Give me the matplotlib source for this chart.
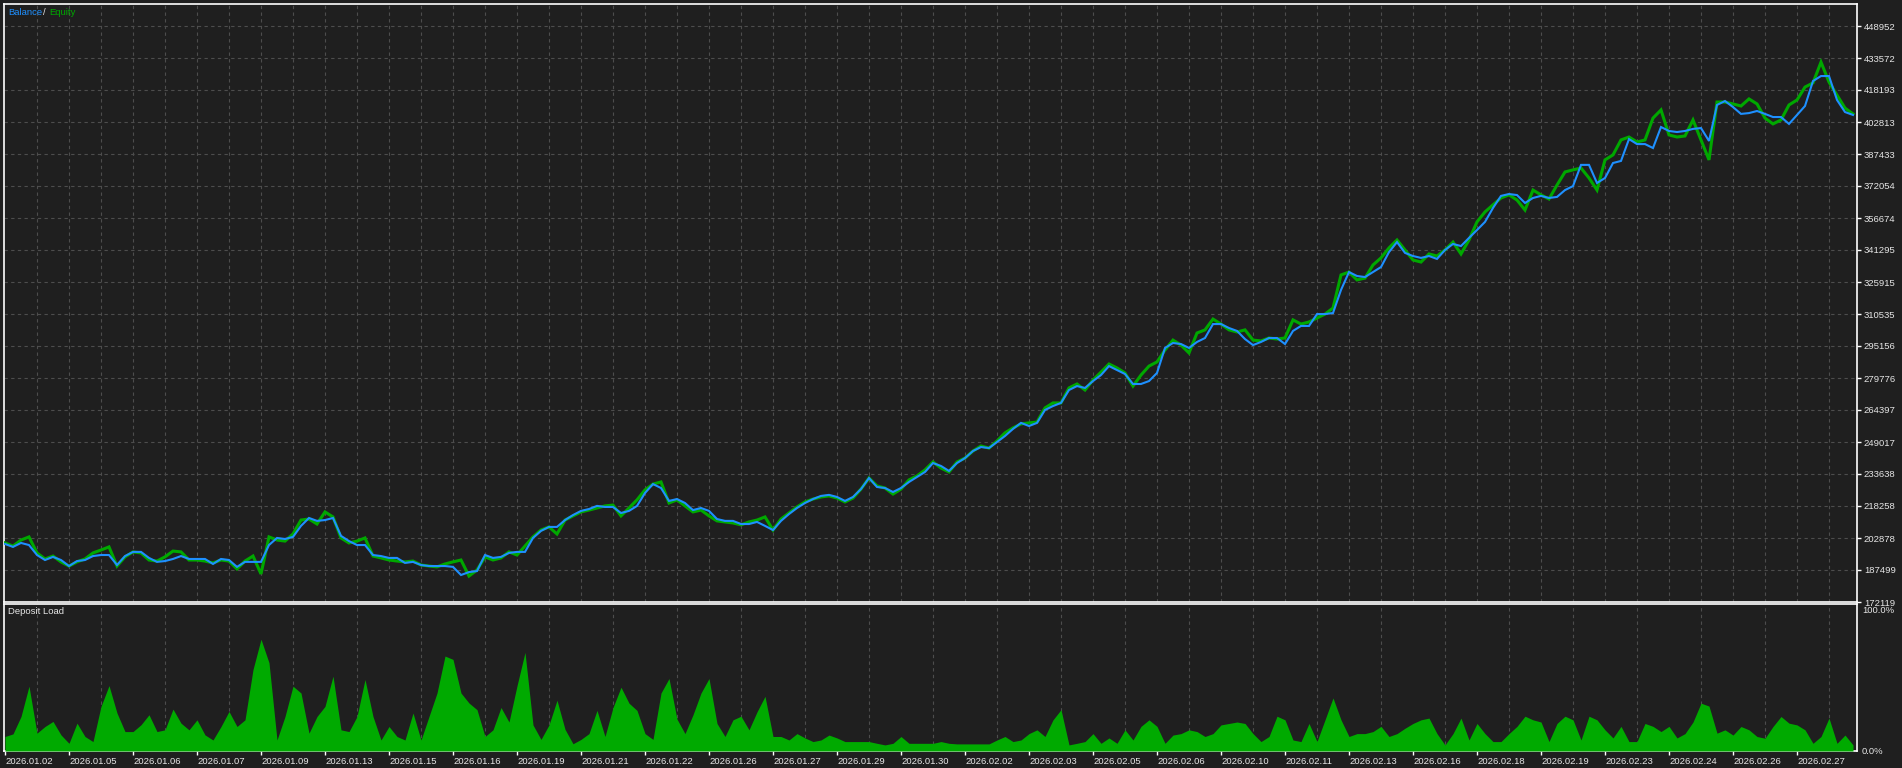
import matplotlib
matplotlib.use('Agg')
import matplotlib.pyplot as plt
import numpy as np

# ---------------- data (balance / equity in thousands, load in %) ----------------
dates = ['2026.01.02', '2026.01.05', '2026.01.06', '2026.01.07', '2026.01.09', '2026.01.13',
         '2026.01.15', '2026.01.16', '2026.01.19', '2026.01.21', '2026.01.22', '2026.01.26',
         '2026.01.27', '2026.01.29', '2026.01.30', '2026.02.02', '2026.02.03', '2026.02.05',
         '2026.02.06', '2026.02.10', '2026.02.11', '2026.02.13', '2026.02.16', '2026.02.18',
         '2026.02.19', '2026.02.23', '2026.02.24', '2026.02.26', '2026.02.27']

y_ticks = [172119, 187499, 202878, 218258, 233638, 249017, 264397, 279776, 295156, 310535,
           325915, 341295, 356674, 372054, 387433, 402813, 418193, 433572, 448952]

balance_k = [
    200.0, 198.6, 200.5, 199.5, 194.7, 192.3, 193.8, 192.3, 189.4, 191.8,
    192.3, 194.2, 194.7, 194.7, 189.9, 194.2, 196.2, 196.2, 193.3, 191.4,
    191.8, 192.8, 194.2, 192.8, 192.8, 192.8, 190.4, 192.8, 192.3, 189.0,
    191.4, 191.4, 191.4, 199.5, 202.9, 202.4, 203.4, 208.7, 212.5, 211.1,
    211.5, 212.5, 203.9, 201.4, 199.5, 199.5, 194.7, 194.2, 193.3, 193.3,
    190.9, 191.4, 189.9, 189.4, 189.4, 189.4, 189.0, 185.1, 186.5, 187.0,
    194.7, 193.3, 193.8, 195.7, 196.2, 196.2, 202.9, 206.3, 208.2, 208.2,
    211.5, 213.9, 215.9, 216.8, 218.3, 217.8, 217.8, 214.9, 215.9, 218.3,
    224.5, 228.8, 226.9, 220.7, 221.6, 219.7, 216.3, 217.3, 215.9, 212.0,
    211.1, 211.1, 209.6, 209.6, 210.6, 208.7, 206.7, 211.1, 214.4, 217.3,
    219.7, 221.6, 223.1, 223.6, 222.6, 220.7, 222.6, 226.4, 231.7, 227.4,
    226.9, 225.0, 226.9, 229.8, 232.2, 234.6, 238.9, 237.5, 235.1, 238.9,
    241.3, 244.7, 246.6, 246.1, 249.0, 251.9, 255.3, 258.2, 256.7, 258.2,
    264.4, 266.3, 267.8, 274.0, 275.9, 275.0, 278.3, 281.2, 285.5, 283.6,
    281.7, 276.9, 276.9, 278.3, 282.2, 294.2, 296.6, 296.1, 294.2, 297.1,
    299.0, 305.7, 305.7, 303.8, 302.4, 298.5, 295.6, 297.1, 299.0, 299.0,
    296.1, 302.4, 304.8, 304.8, 310.5, 310.5, 311.0, 322.1, 330.7, 328.8,
    328.3, 330.7, 333.1, 340.3, 345.1, 339.9, 338.4, 337.5, 338.4, 337.0,
    341.3, 344.2, 343.2, 347.1, 350.9, 354.8, 361.5, 367.3, 368.2, 367.7,
    363.9, 366.3, 367.3, 366.3, 366.8, 370.1, 372.0, 382.2, 382.2, 373.5,
    375.9, 383.1, 384.1, 394.6, 392.2, 392.2, 390.3, 400.4, 398.5, 398.0,
    398.5, 399.5, 399.9, 393.7, 411.0, 412.9, 410.0, 406.7, 407.1, 408.1,
    406.7, 405.2, 405.2, 401.9, 406.2, 410.5, 422.5, 424.9, 424.9, 413.4,
    407.6, 406.2]

equity_k = [
    200.5, 199.0, 201.9, 203.4, 195.7, 192.8, 194.2, 191.4, 189.4, 191.4,
    192.8, 195.7, 197.1, 198.6, 189.4, 193.8, 196.2, 195.7, 192.3, 191.8,
    193.8, 196.6, 196.2, 192.3, 192.3, 191.8, 190.9, 192.3, 191.8, 188.0,
    191.8, 194.2, 185.6, 203.4, 201.9, 201.4, 204.8, 211.5, 212.0, 209.6,
    215.4, 213.0, 202.9, 200.5, 201.4, 202.9, 194.2, 193.3, 192.3, 191.8,
    191.4, 191.8, 189.9, 189.4, 189.0, 190.4, 191.4, 192.3, 184.6, 187.5,
    193.8, 192.3, 193.3, 196.2, 194.7, 199.0, 203.4, 206.7, 208.2, 204.8,
    211.5, 213.5, 215.4, 216.3, 217.3, 218.3, 218.7, 213.5, 217.3, 221.2,
    226.0, 228.8, 229.8, 219.7, 221.2, 218.3, 215.4, 216.3, 213.5, 211.1,
    210.6, 210.1, 209.2, 210.6, 211.5, 213.0, 206.7, 212.0, 214.9, 217.8,
    220.2, 221.6, 222.6, 223.1, 222.1, 220.2, 222.1, 226.4, 231.7, 227.9,
    226.9, 224.0, 226.4, 230.8, 232.7, 235.6, 239.4, 236.5, 234.6, 239.4,
    241.3, 244.7, 247.1, 246.1, 249.5, 253.4, 255.8, 257.7, 258.2, 258.6,
    265.4, 267.8, 267.8, 275.0, 276.9, 274.0, 278.8, 282.6, 286.5, 284.6,
    282.2, 275.9, 281.2, 285.5, 287.5, 293.2, 298.0, 295.6, 291.8, 301.4,
    302.9, 308.1, 305.7, 302.9, 301.9, 302.9, 298.0, 297.6, 299.0, 298.5,
    299.0, 307.7, 305.7, 306.7, 308.6, 310.5, 313.4, 329.3, 330.7, 326.9,
    327.8, 334.1, 337.5, 342.3, 346.1, 341.3, 336.5, 335.5, 339.4, 338.4,
    341.3, 345.1, 339.4, 346.1, 354.8, 359.6, 363.0, 366.3, 367.8, 365.3,
    360.5, 370.1, 367.8, 365.8, 372.5, 378.8, 379.8, 380.7, 375.9, 370.1,
    384.6, 387.0, 394.2, 395.6, 393.2, 394.2, 404.7, 408.6, 396.6, 395.6,
    396.1, 403.8, 394.2, 384.6, 412.4, 412.4, 411.5, 410.5, 413.9, 411.5,
    404.7, 401.9, 403.8, 411.0, 413.4, 419.6, 421.6, 431.6, 422.0, 415.8,
    409.5, 406.7]

deposit_load = [
    10.0, 11.8, 23.8, 44.7, 12.3, 16.9, 20.4, 11.1, 5.3, 19.2,
    10.0, 6.5, 30.8, 45.1, 26.2, 13.4, 13.4, 18.1, 25.0, 13.4,
    14.6, 28.9, 19.2, 14.6, 21.5, 11.1, 7.6, 16.9, 27.3, 16.9,
    21.5, 56.2, 77.1, 60.9, 7.6, 23.8, 44.7, 40.0, 12.3, 23.8,
    30.8, 51.6, 14.6, 13.4, 23.8, 49.3, 23.8, 7.6, 16.9, 10.0,
    7.6, 26.2, 7.6, 23.8, 40.0, 65.5, 63.2, 40.0, 33.1, 28.5,
    10.0, 14.6, 30.0, 20.0, 45.0, 68.0, 18.0, 8.0, 18.0, 35.0,
    15.0, 5.0, 8.0, 12.0, 28.0, 10.0, 30.0, 44.0, 33.0, 28.0,
    12.0, 8.0, 40.0, 50.0, 22.0, 12.0, 25.0, 40.0, 50.0, 19.0,
    10.0, 21.5, 24.0, 14.6, 27.0, 37.7, 10.0, 10.0, 7.6, 12.0,
    9.0, 6.5, 7.6, 11.0, 9.0, 6.5, 6.5, 6.5, 6.5, 5.3,
    4.2, 5.3, 10.0, 5.3, 5.3, 5.3, 5.3, 6.5, 5.3, 4.9,
    4.9, 4.9, 4.9, 4.9, 7.6, 10.0, 6.5, 7.6, 12.0, 14.6,
    10.0, 21.5, 28.5, 4.2, 5.3, 6.5, 12.0, 5.3, 9.0, 5.3,
    14.6, 7.6, 17.0, 21.5, 17.0, 5.3, 11.0, 12.0, 14.6, 13.4,
    10.0, 12.0, 18.0, 19.0, 20.0, 19.0, 12.0, 6.5, 10.0, 24.0,
    21.5, 7.6, 6.5, 19.0, 6.5, 21.5, 36.6, 21.5, 10.0, 12.0,
    12.0, 13.4, 17.0, 10.0, 12.0, 15.7, 19.0, 21.5, 22.7, 12.0,
    4.2, 12.0, 22.7, 7.6, 19.0, 12.0, 6.5, 6.5, 12.0, 17.0,
    24.0, 21.5, 20.0, 6.5, 19.0, 24.0, 21.5, 7.6, 24.0, 21.5,
    14.6, 9.0, 17.0, 6.5, 6.5, 19.0, 17.0, 13.4, 17.0, 9.0,
    12.0, 20.0, 33.0, 31.0, 12.3, 14.6, 11.0, 16.9, 14.6, 10.0,
    8.8, 16.9, 23.8, 19.2, 18.0, 14.6, 5.3, 10.0, 22.7, 5.3,
    11.0, 4.2]

# ---------------- style ----------------
BG = '#1f1f1f'
GRID = '#4d4d4d'
TXT = '#e6e6e6'
BLUE = '#1e90ff'
GREEN = '#00a800'
LOADG = '#00aa00'
FONT = 'Liberation Sans'
FS = 6.8

plt.rcParams['font.family'] = [FONT, 'DejaVu Sans']

W, H = 1902, 768
fig = plt.figure(figsize=(W / 100, H / 100), dpi=100, facecolor=BG)


def box(l, t, r, b):
    return [l / W, 1 - b / H, (r - l) / W, (b - t) / H]


ax = fig.add_axes(box(4, 4, 1857, 602))
ax2 = fig.add_axes(box(4, 604, 1857, 751))

# sample positions: 4 samples per grid cell, date labels every 2 cells
step = 0.25
x = np.arange(len(balance_k)) * step
bal = np.array(balance_k) * 1000
eq = np.array(equity_k) * 1000

xmin, xmax = -1 / 32, 1852 / 32
for a in (ax, ax2):
    a.set_facecolor(BG)
    a.set_xlim(xmin, xmax)
    for s in a.spines.values():
        s.set_color('white')
        s.set_linewidth(1.2)
    a.set_xticks(np.arange(1, 58), minor=True)
    a.grid(True, which='minor', axis='x', color=GRID, lw=0.8, ls=(0, (3, 3)))
    a.tick_params(which='minor', length=0)

# ---- top panel ----
ax.plot(x, eq, color=GREEN, lw=2.2, zorder=3, solid_joinstyle='miter')
ax.plot(x, bal, color=BLUE, lw=1.5, zorder=4, solid_joinstyle='miter')
ytop = y_ticks[0] + (y_ticks[-1] - y_ticks[0]) / 18 * (598 / 32)
ax.set_ylim(y_ticks[0], ytop)
ax.yaxis.tick_right()
ax.set_yticks(y_ticks)
ax.set_yticklabels([str(v) for v in y_ticks])
ax.set_xticks([])
ax.grid(True, which='major', axis='y', color=GRID, lw=0.8, ls=(0, (3, 3)))
ax.tick_params(axis='y', which='major', colors='white', labelcolor=TXT,
               labelsize=FS, length=3, width=1, pad=2)

fig.text(8 / W, 1 - 12.5 / H, 'Balance', color=BLUE, fontsize=FS, va='center', ha='left')
fig.text(43 / W, 1 - 12.5 / H, '/', color=TXT, fontsize=FS, va='center', ha='left')
fig.text(49 / W, 1 - 12.5 / H, 'Equity', color=GREEN, fontsize=FS, va='center', ha='left')

# ---- bottom panel ----
ax2.fill_between(x, 0, deposit_load, color=LOADG, lw=0, zorder=3)
ax2.set_ylim(0, 101.4)
ax2.set_yticks([])
ax2.set_xticks(np.arange(0, 2 * len(dates), 2))
ax2.set_xticklabels(dates)
for lbl in ax2.get_xticklabels():
    lbl.set_ha('left')
ax2.tick_params(axis='x', which='major', colors='white', labelcolor=TXT,
                labelsize=FS, length=3, width=1, pad=1.5)
tr = ax2.get_yaxis_transform()
ax2.text(1 + 5 / 1853, 100, '100.0%', transform=tr, color=TXT, fontsize=FS,
         va='top', ha='left', clip_on=False)
ax2.text(1 + 5 / 1853, 0, '0.0%', transform=tr, color=TXT, fontsize=FS,
         va='center', ha='left', clip_on=False)
fig.text(8 / W, 1 - 612 / H, 'Deposit Load', color=TXT, fontsize=FS, va='center', ha='left')

fig.savefig('out.png', dpi=100, facecolor=BG)
